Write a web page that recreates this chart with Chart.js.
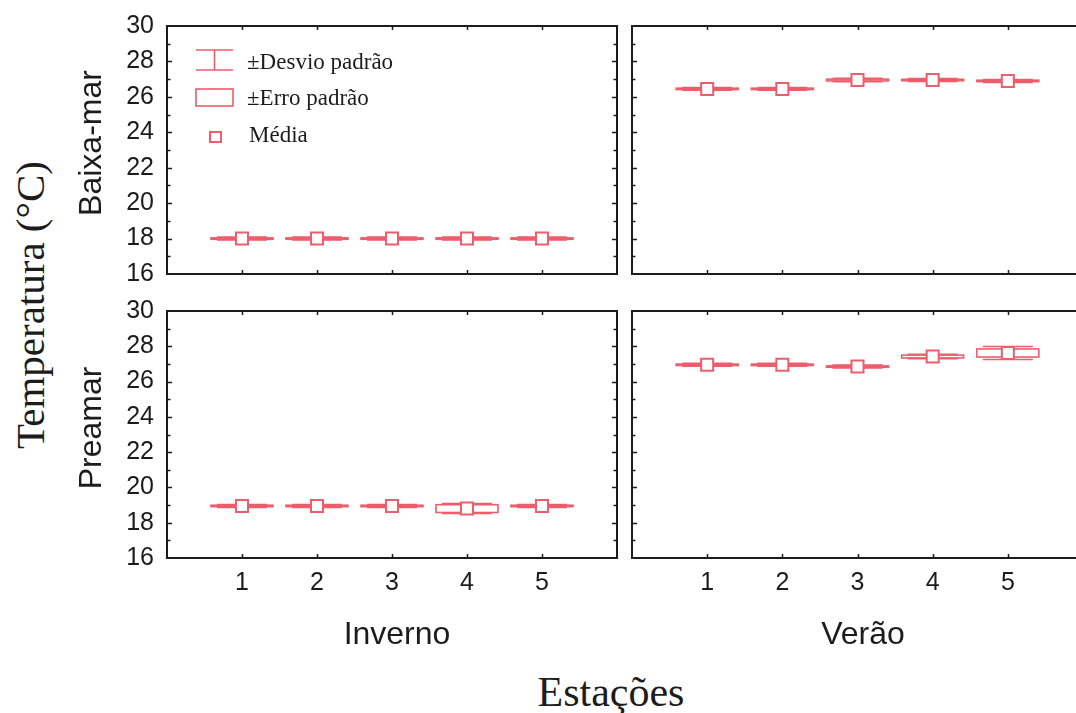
<!DOCTYPE html>
<html><head><meta charset="utf-8">
<script src="https://cdn.jsdelivr.net/npm/chart.js@4.4.1/dist/chart.umd.min.js"></script>
<style>
html,body{margin:0;padding:0;background:#fff;overflow:hidden;width:1076px;height:713px;}
#wrap{position:relative;width:1076px;height:713px;overflow:hidden;background:#fff;}
#wrap canvas{position:absolute;}
.lbl{position:absolute;white-space:nowrap;color:#1c1c1c;line-height:1;}
.rot{transform:translate(-50%,-50%) rotate(-90deg);}
.ctr{transform:translate(-50%,-50%);}
.serif{font-family:"Liberation Serif","Times New Roman",serif;}
.sans{font-family:"Liberation Sans",Arial,sans-serif;}
</style></head><body>
<div id="wrap">
  <canvas id="tl" width="532" height="293" style="left:105px;top:6px"></canvas>
  <canvas id="tr" width="476" height="293" style="left:627px;top:6px"></canvas>
  <canvas id="bl" width="532" height="337" style="left:105px;top:291px"></canvas>
  <canvas id="br" width="476" height="337" style="left:627px;top:291px"></canvas>
  <div class="lbl serif rot" style="left:30px;top:305px;font-size:41px">Temperatura (°C)</div>
  <div class="lbl sans rot" style="left:90px;top:143px;font-size:32px">Baixa-mar</div>
  <div class="lbl sans rot" style="left:90px;top:428px;font-size:32px">Preamar</div>
  <div class="lbl sans ctr" style="left:397px;top:633px;font-size:32px">Inverno</div>
  <div class="lbl sans ctr" style="left:863px;top:633px;font-size:32px">Verão</div>
  <div class="lbl serif ctr" style="left:611px;top:692px;font-size:42px">Estações</div>
</div>
<script>
// ---- data ----
const stations = [1, 2, 3, 4, 5];
const yTickValues = [16, 18, 20, 22, 24, 26, 28, 30];

const invernoBaixaMean = [18.0, 18.0, 18.0, 18.0, 18.0];
const invernoBaixaSE   = [0.04, 0.04, 0.04, 0.04, 0.04];
const invernoBaixaSD   = [0.08, 0.08, 0.08, 0.08, 0.08];

const veraoBaixaMean = [26.45, 26.45, 26.95, 26.95, 26.9];
const veraoBaixaSE   = [0.04, 0.04, 0.05, 0.04, 0.04];
const veraoBaixaSD   = [0.08, 0.08, 0.10, 0.08, 0.08];

const invernoPreaMean = [18.95, 18.95, 18.95, 18.8, 18.95];
const invernoPreaSE   = [0.04, 0.04, 0.04, 0.22, 0.04];
const invernoPreaSD   = [0.08, 0.08, 0.08, 0.28, 0.08];

const veraoPreaMean = [26.95, 26.95, 26.85, 27.42, 27.62];
const veraoPreaSE   = [0.04, 0.04, 0.04, 0.08, 0.23];
const veraoPreaSD   = [0.08, 0.08, 0.08, 0.12, 0.37];

const legendLabels = ['±Desvio padrão', '±Erro padrão', 'Média'];

// ---- styling ----
const RED = '#ee5d6c';
const INK = '#1c1c1c';

const boxPlugin = {
  id: 'boxes',
  beforeDatasetsDraw(chart) {
    const ctx = chart.ctx, xs = chart.scales.x, ys = chart.scales.y;
    const ds = chart.data.datasets[0];
    ctx.save();
    ctx.strokeStyle = RED;
    ctx.lineWidth = 1.6;
    ds.data.forEach((p, i) => {
      const x = xs.getPixelForValue(p.x);
      const yt = ys.getPixelForValue(p.y + ds.se[i]);
      const yb = ys.getPixelForValue(p.y - ds.se[i]);
      const st = ys.getPixelForValue(p.y + ds.sd[i]);
      const sb = ys.getPixelForValue(p.y - ds.sd[i]);
      ctx.strokeRect(x - 31, yt, 62, Math.max(yb - yt, 0.5));
      ctx.beginPath();
      ctx.moveTo(x - 25, st); ctx.lineTo(x + 25, st);
      ctx.moveTo(x - 25, sb); ctx.lineTo(x + 25, sb);
      ctx.moveTo(x, st); ctx.lineTo(x, sb);
      ctx.stroke();
    });
    ctx.restore();
  }
};

const framePlugin = {
  id: 'frame',
  afterDatasetsDraw(chart) {
    const ctx = chart.ctx, a = chart.chartArea, xs = chart.scales.x, ys = chart.scales.y;
    ctx.save();
    ctx.strokeStyle = INK;
    ctx.lineWidth = 2;
    ctx.strokeRect(a.left, a.top, a.right - a.left, a.bottom - a.top);
    ctx.lineWidth = 1.5;
    ctx.beginPath();
    for (let v = ys.min + 1; v < ys.max; v++) {
      const y = Math.round(ys.getPixelForValue(v)) + 0.5;
      const len = (v % 2 === 0) ? 5 : 3.5;
      ctx.moveTo(a.left, y); ctx.lineTo(a.left + len, y);
      ctx.moveTo(a.right, y); ctx.lineTo(a.right - len, y);
    }
    stations.forEach(s => {
      const x = Math.round(xs.getPixelForValue(s)) + 0.5;
      ctx.moveTo(x, a.top); ctx.lineTo(x, a.top + 4);
      ctx.moveTo(x, a.bottom); ctx.lineTo(x, a.bottom - 4);
    });
    ctx.stroke();
    ctx.restore();
  }
};

const legendPlugin = {
  id: 'panelLegend',
  afterDraw(chart) {
    const ctx = chart.ctx, a = chart.chartArea;
    const L = a.left, T = a.top;
    ctx.save();
    ctx.strokeStyle = RED;
    ctx.lineWidth = 1.6;
    ctx.beginPath();
    ctx.moveTo(L + 29, T + 24); ctx.lineTo(L + 66, T + 24);
    ctx.moveTo(L + 29, T + 44); ctx.lineTo(L + 66, T + 44);
    ctx.moveTo(L + 47.5, T + 24); ctx.lineTo(L + 47.5, T + 44);
    ctx.stroke();
    ctx.strokeRect(L + 29, T + 63, 37, 17);
    ctx.lineWidth = 2;
    ctx.strokeRect(L + 43, T + 106, 11, 10);
    ctx.fillStyle = INK;
    ctx.font = '23px "Liberation Serif", "Times New Roman", serif';
    ctx.textBaseline = 'alphabetic';
    ctx.fillText(legendLabels[0], L + 80, T + 43);
    ctx.fillText(legendLabels[1], L + 80, T + 79);
    ctx.fillText(legendLabels[2], L + 82, T + 116);
    ctx.restore();
  }
};

function makeChart(id, mean, se, sd, o) {
  return new Chart(document.getElementById(id), {
    type: 'scatter',
    data: {
      datasets: [{
        data: stations.map((s, i) => ({ x: s, y: mean[i] })),
        se: se, sd: sd,
        pointStyle: 'rect', radius: 8.5, hoverRadius: 8.5,
        borderColor: RED, backgroundColor: '#ffffff', borderWidth: 2,
        showLine: false
      }]
    },
    options: {
      responsive: false, animation: false, devicePixelRatio: 1,
      events: [],
      layout: { autoPadding: false, padding: { left: 0, right: 20, top: 20, bottom: 20 } },
      plugins: { legend: { display: false }, tooltip: { enabled: false } },
      scales: {
        x: {
          type: 'linear', min: 0, max: 6, position: 'bottom',
          grid: { display: false, drawTicks: false }, border: { display: false },
          afterBuildTicks: s => { s.ticks = stations.map(v => ({ value: v })); },
          ticks: { display: o.xLabels, autoSkip: false, maxRotation: 0, padding: 10, color: INK,
                   font: { family: 'Liberation Sans', size: 25 } },
          afterFit: s => { s.height = o.xH; s.paddingLeft = 0; s.paddingRight = 0; s.paddingTop = 0; s.paddingBottom = 0; }
        },
        y: {
          type: 'linear', min: 16, max: 30, position: 'left',
          grid: { display: false, drawTicks: false }, border: { display: false },
          afterBuildTicks: s => { s.ticks = yTickValues.map(v => ({ value: v })); },
          ticks: { display: o.yLabels, autoSkip: false, padding: 13, color: INK,
                   font: { family: 'Liberation Sans', size: 25 } },
          afterFit: s => { s.width = o.yW; s.paddingTop = 0; s.paddingBottom = 0; s.paddingLeft = 0; s.paddingRight = 0; }
        }
      }
    },
    plugins: [boxPlugin, framePlugin].concat(o.legend ? [legendPlugin] : [])
  });
}

makeChart('tl', invernoBaixaMean, invernoBaixaSE, invernoBaixaSD, { xLabels: false, yLabels: true, xH: 5, yW: 62, legend: true });
makeChart('tr', veraoBaixaMean, veraoBaixaSE, veraoBaixaSD, { xLabels: false, yLabels: false, xH: 5, yW: 5 });
makeChart('bl', invernoPreaMean, invernoPreaSE, invernoPreaSD, { xLabels: true, yLabels: true, xH: 50, yW: 62 });
makeChart('br', veraoPreaMean, veraoPreaSE, veraoPreaSD, { xLabels: true, yLabels: false, xH: 50, yW: 5 });
</script>
</body></html>
